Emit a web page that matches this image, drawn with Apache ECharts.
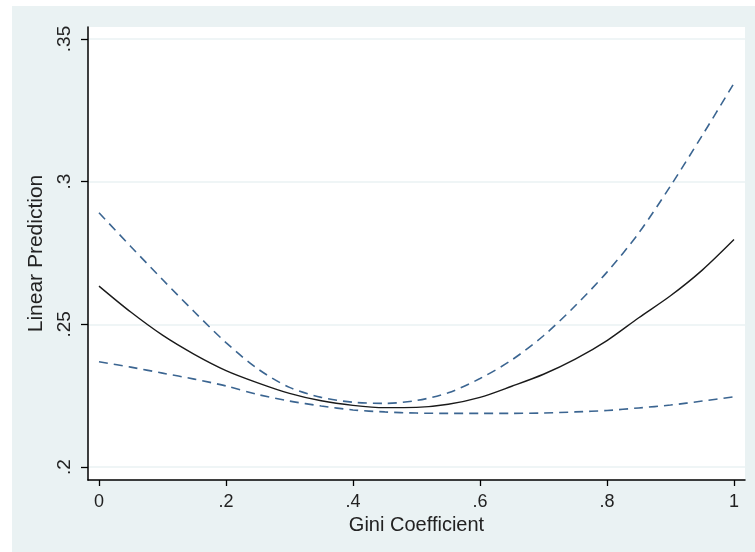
<!DOCTYPE html>
<html>
<head>
<meta charset="utf-8">
<title>Linear Prediction vs Gini Coefficient</title>
<script src="https://cdn.jsdelivr.net/npm/echarts@6.0.0/dist/echarts.min.js"></script>
<style>
  html, body { margin: 0; padding: 0; background: #fff; }
  #chart { width: 755px; height: 552px; }
</style>
</head>
<body>
<div id="chart"></div>
<script>
// x values (Gini coefficient)
var gini = [0, 0.05, 0.1, 0.15, 0.2, 0.25, 0.3, 0.35, 0.4, 0.45, 0.5,
            0.55, 0.6, 0.65, 0.7, 0.75, 0.8, 0.85, 0.9, 0.95, 1];

// fitted linear prediction
var fit = [0.2634, 0.2543, 0.2462, 0.2395, 0.2338, 0.2295, 0.2258, 0.2232, 0.2216, 0.2208, 0.2209,
           0.2220, 0.2244, 0.2283, 0.2325, 0.2378, 0.2443, 0.2523, 0.2600, 0.2690, 0.2797];

// confidence bounds
var upper = [0.2891, 0.2773, 0.2657, 0.2544, 0.2436, 0.2344, 0.2279, 0.2244, 0.2227, 0.2223, 0.2233,
             0.2260, 0.2310, 0.2375, 0.2460, 0.2565, 0.2683, 0.2820, 0.2985, 0.3162, 0.3345];
var lower = [0.2369, 0.2350, 0.2329, 0.2308, 0.2284, 0.2254, 0.2231, 0.2214, 0.2200, 0.2193, 0.2189,
             0.2188, 0.2188, 0.2188, 0.2189, 0.2193, 0.2198, 0.2207, 0.2217, 0.2231, 0.2246];

var xTicks = [0, 0.2, 0.4, 0.6, 0.8, 1];
var yTicks = [0.2, 0.25, 0.3, 0.35];

function pairs(ys) {
  return gini.map(function (x, i) { return [x, ys[i]]; });
}

// strip the leading zero, Stata style (.2, .35)
function stataLabel(v) {
  var s = String(Math.round(v * 1000) / 1000);
  return s.replace(/^0\./, '.');
}

var bg = '#eaf2f3';
var font = '"Liberation Sans", Arial, sans-serif';
var blue = '#3b6591';

var chart = echarts.init(document.getElementById('chart'));

chart.setOption({
  animation: false,
  backgroundColor: '#ffffff',
  graphic: [{
    type: 'rect',
    z: -10,
    shape: { x: 12, y: 6, width: 743, height: 546 },
    style: { fill: bg }
  }],
  grid: {
    left: 88, top: 27, right: 10, bottom: 72,
    show: true,
    backgroundColor: '#ffffff',
    borderWidth: 0
  },
  xAxis: {
    type: 'value',
    min: -0.01732,
    max: 1.01732,
    name: 'Gini Coefficient',
    nameLocation: 'middle',
    nameGap: 29,
    nameTextStyle: { fontFamily: font, fontSize: 20, color: '#222' },
    axisLine: { show: true, onZero: false, lineStyle: { color: '#000', width: 1.5 } },
    axisTick: { show: true, length: 6, customValues: xTicks, lineStyle: { color: '#000', width: 1.3 } },
    axisLabel: {
      customValues: xTicks,
      formatter: stataLabel,
      margin: 13,
      fontFamily: font, fontSize: 18, color: '#222'
    },
    splitLine: { show: false }
  },
  yAxis: {
    type: 'value',
    min: 0.19544,
    max: 0.35421,
    name: 'Linear Prediction',
    nameLocation: 'middle',
    nameGap: 32,
    nameTextStyle: { fontFamily: font, fontSize: 21, color: '#222' },
    axisLine: { show: true, onZero: false, lineStyle: { color: '#000', width: 1.5 } },
    axisTick: { show: true, length: 7, customValues: yTicks, lineStyle: { color: '#000', width: 1.3 } },
    axisLabel: {
      customValues: yTicks,
      formatter: stataLabel,
      rotate: 90,
      margin: 14,
      fontFamily: font, fontSize: 19, color: '#222'
    },
    splitLine: { show: true, lineStyle: { color: bg, width: 1.5 } }
  },
  series: [
    {
      name: 'upper',
      type: 'line',
      data: pairs(upper),
      smooth: 0.3,
      showSymbol: false,
      lineStyle: { color: blue, width: 1.6, type: [9, 6] }
    },
    {
      name: 'lower',
      type: 'line',
      data: pairs(lower),
      smooth: 0.3,
      showSymbol: false,
      lineStyle: { color: blue, width: 1.6, type: [9, 6] }
    },
    {
      name: 'fit',
      type: 'line',
      data: pairs(fit),
      smooth: 0.3,
      showSymbol: false,
      lineStyle: { color: '#1a1a1a', width: 1.4 }
    }
  ]
});

window.addEventListener('resize', function () {
  if (chart) chart.resize();
});
</script>
</body>
</html>
